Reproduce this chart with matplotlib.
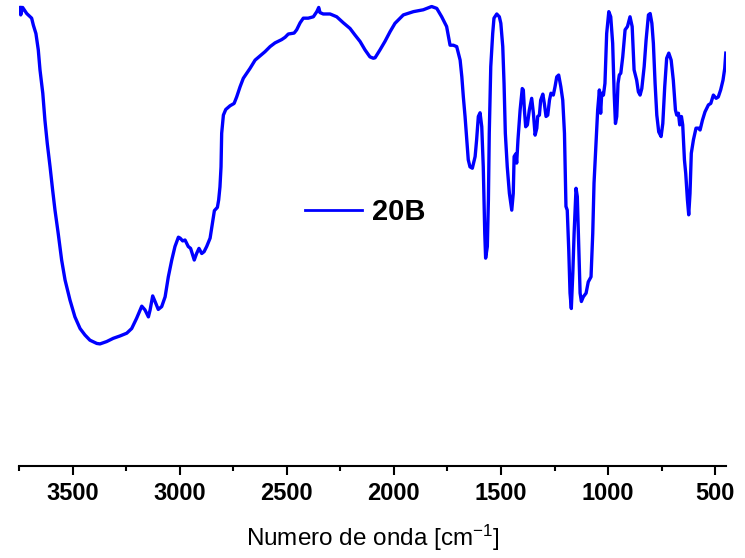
import matplotlib
matplotlib.use("Agg")
import matplotlib.pyplot as plt
from matplotlib.ticker import MultipleLocator

plt.rcParams['font.family'] = ['Liberation Sans', 'DejaVu Sans']
plt.rcParams['mathtext.default'] = 'regular'

# IR spectrum of sample 20B (wavenumber in cm-1, transmittance in %)
wavenumber = [3745, 3742, 3733, 3714, 3691, 3683, 3671, 3660, 3652, 3639,
              3629, 3618, 3605, 3593, 3582, 3567, 3551, 3535, 3512, 3489,
              3465, 3442, 3419, 3387, 3372, 3341, 3310, 3279, 3247, 3224,
              3201, 3177, 3162, 3146, 3138, 3126, 3115, 3100, 3084, 3068,
              3053, 3037, 3022, 3006, 2998, 2986, 2975, 2960, 2949, 2932,
              2921, 2910, 2897, 2886, 2874, 2858, 2846, 2838, 2824, 2818,
              2812, 2807, 2804, 2796, 2785, 2765, 2746, 2734, 2718, 2703,
              2687, 2672, 2648, 2625, 2602, 2578, 2555, 2524, 2508, 2493,
              2466, 2454, 2438, 2423, 2400, 2376, 2360, 2351, 2345, 2330,
              2298, 2267, 2236, 2205, 2182, 2158, 2135, 2112, 2096, 2088,
              2065, 2042, 2018, 1995, 1956, 1909, 1863, 1824, 1800, 1777,
              1754, 1738, 1723, 1707, 1691, 1683, 1676, 1668, 1660, 1653,
              1645, 1634, 1621, 1614, 1606, 1598, 1590, 1583, 1576, 1572,
              1564, 1559, 1555, 1548, 1539, 1533, 1520, 1508, 1501, 1492,
              1486, 1480, 1471, 1461, 1450, 1443, 1439, 1431, 1427, 1421,
              1411, 1401, 1396, 1391, 1385, 1377, 1368, 1357, 1349, 1341,
              1333, 1329, 1321, 1315, 1305, 1298, 1290, 1282, 1274, 1267,
              1256, 1248, 1240, 1231, 1221, 1212, 1204, 1201, 1197, 1191,
              1184, 1178, 1172, 1165, 1159, 1150, 1144, 1137, 1131, 1125,
              1116, 1103, 1093, 1080, 1072, 1066, 1057, 1049, 1041, 1035,
              1030, 1022, 1015, 1007, 997, 988, 979, 972, 966, 960,
              954, 948, 941, 932, 921, 910, 898, 888, 879, 867,
              859, 851, 843, 832, 823, 812, 804, 796, 789, 781,
              773, 764, 753, 745, 736, 727, 717, 706, 696, 686,
              680, 672, 666, 658, 652, 644, 638, 630, 624, 618,
              612, 602, 590, 579, 571, 560, 548, 532, 521, 509,
              496, 486, 475, 464, 456, 451]
transmittance = [98.4, 96.8, 98.4, 97.1, 96.1, 94.6, 92.8, 89.3, 85.0, 80.0,
                 74.2, 69.2, 64.2, 59.2, 54.9, 49.9, 44.2, 39.9, 35.6, 32.0,
                 29.5, 28.1, 27.0, 26.3, 26.2, 26.7, 27.4, 27.9, 28.5, 29.5,
                 31.7, 34.3, 33.5, 32.0, 33.5, 36.5, 35.3, 33.6, 34.2, 36.3,
                 40.6, 44.2, 47.1, 49.1, 48.9, 48.3, 48.5, 47.1, 46.7, 44.2,
                 45.6, 46.7, 45.6, 46.0, 47.1, 48.9, 52.4, 54.8, 55.5, 57.1,
                 59.9, 64.2, 71.4, 75.3, 76.5, 77.3, 77.8, 79.2, 81.4, 83.2,
                 84.3, 85.3, 87.1, 88.0, 88.9, 90.0, 90.8, 91.5, 92.0, 92.7,
                 92.9, 93.6, 95.1, 96.1, 96.1, 96.4, 97.5, 98.4, 97.3, 97.0,
                 97.0, 96.4, 95.1, 93.9, 92.5, 91.1, 89.3, 87.8, 87.5, 87.6,
                 89.3, 91.1, 93.2, 95.0, 96.8, 97.5, 97.9, 98.6, 98.2, 96.4,
                 94.3, 90.3, 90.3, 90.0, 87.1, 83.5, 79.2, 75.0, 70.0, 65.7,
                 64.2, 63.9, 66.4, 70.0, 75.0, 75.8, 72.8, 64.2, 49.9, 44.6,
                 47.1, 57.1, 71.4, 85.7, 92.8, 96.1, 97.0, 96.4, 95.0, 90.0,
                 82.1, 71.4, 64.2, 58.5, 54.9, 58.5, 66.4, 67.0, 65.0, 70.0,
                 76.4, 81.0, 80.7, 76.4, 72.8, 73.2, 76.4, 78.9, 75.7, 71.0,
                 72.5, 75.0, 75.3, 78.5, 79.8, 77.8, 75.0, 75.3, 78.5, 80.0,
                 79.6, 81.4, 83.5, 83.9, 81.4, 78.5, 71.4, 64.2, 55.7, 54.9,
                 46.4, 37.1, 33.8, 41.4, 49.9, 59.6, 57.8, 46.4, 37.1, 35.3,
                 36.3, 37.1, 39.5, 40.6, 49.9, 60.7, 69.2, 76.4, 80.7, 75.7,
                 80.0, 79.6, 82.1, 92.8, 97.5, 96.4, 90.7, 80.0, 73.5, 75.0,
                 82.1, 83.9, 84.3, 87.8, 93.6, 94.3, 96.4, 94.3, 85.0, 82.8,
                 80.3, 79.6, 81.0, 85.7, 91.4, 96.8, 97.1, 95.0, 90.7, 82.1,
                 75.3, 71.7, 70.7, 73.5, 81.4, 87.5, 88.6, 87.1, 82.8, 76.4,
                 75.3, 75.7, 73.2, 75.0, 73.2, 65.7, 62.8, 57.1, 53.9, 58.5,
                 67.1, 70.0, 72.5, 72.5, 72.1, 74.2, 76.0, 77.5, 77.8, 79.6,
                 78.9, 79.2, 80.7, 82.8, 85.3, 88.6]
label = '20B'

fig = plt.figure(figsize=(7.45, 5.58), dpi=100)
ax = fig.add_axes([19/745, 92/558, 707/745, 466/558])

line, = ax.plot(wavenumber, transmittance, color='#0000FF', lw=2.4, label=label)

ax.set_xlim(3750, 450)
ax.set_ylim(0, 100)
ax.xaxis.set_major_locator(MultipleLocator(500))
ax.xaxis.set_minor_locator(MultipleLocator(250))
for s in ['top', 'right', 'left']:
    ax.spines[s].set_visible(False)
ax.spines['bottom'].set_linewidth(1.5)
ax.set_yticks([])
ax.tick_params(axis='x', which='major', direction='out', length=6.5, width=1.5, pad=5)
ax.tick_params(axis='x', which='minor', direction='out', length=3.5, width=1.5)
for t in ax.get_xticklabels():
    t.set_fontsize(17)
    t.set_fontweight('bold')

ax.set_xlabel(r'Numero de onda [cm$^{-1}$]', fontsize=17.5, labelpad=13)

leg = ax.legend(loc='center left', bbox_to_anchor=(305/745, 1 - 212/558),
                bbox_transform=fig.transFigure, frameon=False, borderpad=0,
                borderaxespad=0, handlelength=1.95, handletextpad=0.35,
                prop={'size': 21, 'weight': 'bold'})
leg.get_lines()[0].set_linewidth(2.0)

fig.savefig('out.png', dpi=100)
